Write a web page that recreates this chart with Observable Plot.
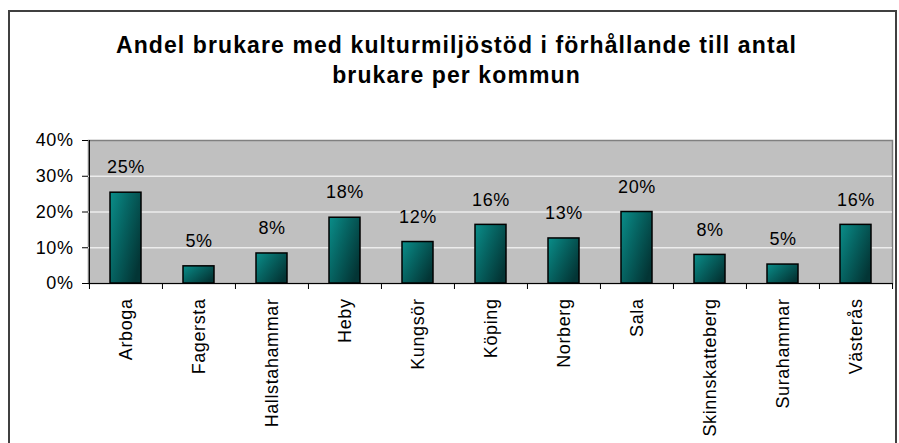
<!DOCTYPE html>
<html>
<head>
<meta charset="utf-8">
<script src="https://cdn.jsdelivr.net/npm/d3@7"></script>
<script src="https://cdn.jsdelivr.net/npm/@observablehq/plot@0.6"></script>
<style>
  html, body { margin: 0; padding: 0; background: #fff; }
  #wrap { position: relative; width: 899px; height: 443px; overflow: hidden; font-family: "Liberation Sans", Arial, sans-serif; }
  #border { position: absolute; left: 8px; top: 10px; width: 889px; height: 460px; border: 2px solid #404040; box-sizing: border-box; }
  #title { position: absolute; left: 12px; width: 889px; top: 30px; text-align: center; font-weight: bold; font-size: 23px; letter-spacing: 1.1px; line-height: 30px; color: #000; }
  #chart { position: absolute; left: 0; top: 0; }
  #chart text { letter-spacing: 0.6px; }
</style>
</head>
<body>
<div id="wrap">
  <div id="border"></div>
  <div id="chart"></div>
  <div id="title"></div>
</div>
<script>
const titleLines = ["Andel brukare med kulturmiljöstöd i förhållande till antal", "brukare per kommun"];
const categories = ["Arboga", "Fagersta", "Hallstahammar", "Heby", "Kungsör", "Köping", "Norberg", "Sala", "Skinnskatteberg", "Surahammar", "Västerås"];
const shares = [0.254, 0.048, 0.084, 0.184, 0.116, 0.164, 0.126, 0.200, 0.080, 0.053, 0.164];
const yTicks = [0, 0.1, 0.2, 0.3, 0.4];

document.getElementById("title").innerHTML = titleLines.join("<br>");

const data = categories.map((c, i) => ({kommun: c, share: shares[i]}));
const W = 899, H = 443, mL = 88, mR = 7, mT = 140, mB = 160;
const band = (W - mL - mR) / categories.length;
const tickLen = 6 / ((H - mT - mB) / 0.4);
const fmt = d3.format(".0%");

const gradientDefs = () => {
  const ns = "http://www.w3.org/2000/svg";
  const defs = document.createElementNS(ns, "defs");
  const g = document.createElementNS(ns, "linearGradient");
  g.setAttribute("id", "bargrad");
  g.setAttribute("x1", "0"); g.setAttribute("y1", "0");
  g.setAttribute("x2", "1"); g.setAttribute("y2", "0.7");
  [["0", "#0a8e8a"], ["0.45", "#066563"], ["1", "#033535"]].forEach(([o, c]) => {
    const s = document.createElementNS(ns, "stop");
    s.setAttribute("offset", o); s.setAttribute("stop-color", c);
    g.appendChild(s);
  });
  defs.appendChild(g);
  return defs;
};

const chart = Plot.plot({
  width: W, height: H,
  marginLeft: mL, marginRight: mR, marginTop: mT, marginBottom: mB,
  style: {fontFamily: "'Liberation Sans', Arial, sans-serif", fontSize: "18px", color: "black", background: "transparent", overflow: "visible"},
  x: {domain: categories, padding: 0, axis: null},
  y: {domain: [0, 0.4], axis: null},
  marks: [
    gradientDefs,
    Plot.frame({fill: "#c0c0c0", stroke: "#808080", strokeWidth: 1.5}),
    Plot.ruleY(yTicks.filter(t => t > 0 && t < 0.4), {stroke: "#ececec", strokeWidth: 1.5}),
    Plot.barY(data, {x: "kommun", y: "share", fill: "url(#bargrad)", stroke: "black", strokeWidth: 1.5, insetLeft: 21, insetRight: 21}),
    Plot.text(data, {x: "kommun", y: "share", text: d => fmt(d.share), dy: -25, fontSize: 18, fill: "black"}),
    Plot.ruleY([0], {stroke: "black", strokeWidth: 1}),
    Plot.ruleX([categories[0]], {dx: -band / 2, y1: 0, y2: 0.4, stroke: "black"}),
    Plot.ruleX(categories, {dx: -band / 2, y1: -tickLen, y2: 0, stroke: "black"}),
    Plot.ruleX([categories[categories.length - 1]], {dx: band / 2, y1: -tickLen, y2: 0, stroke: "black"}),
    Plot.axisY({ticks: yTicks, tickFormat: d => fmt(d), tickSize: 6, tickPadding: 9, fontSize: 18, stroke: "black", label: null}),
    Plot.axisX({tickSize: 0, tickRotate: -90, tickPadding: 15, fontSize: 18, label: null})
  ]
});
document.getElementById("chart").appendChild(chart);
</script>
</body>
</html>
